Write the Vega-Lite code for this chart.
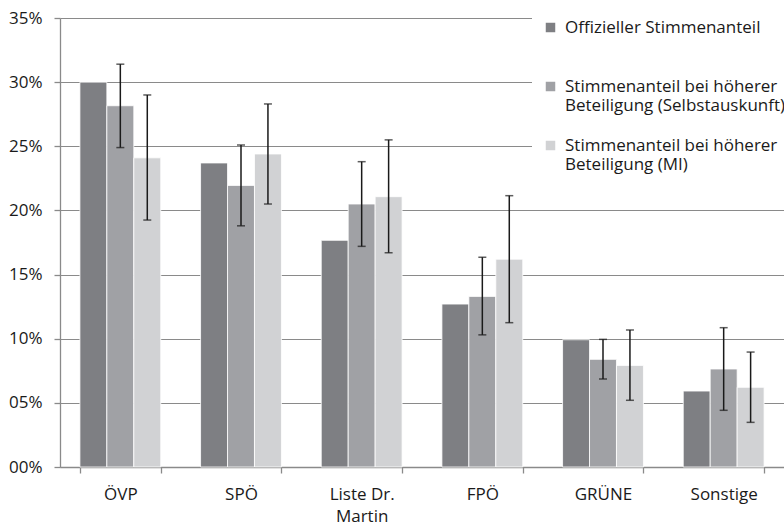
{
  "$schema": "https://vega.github.io/schema/vega-lite/v6.json",
  "width": 724,
  "height": 449,
  "autosize": {"type": "none"},
  "padding": {"left": 60, "top": 18, "right": 0, "bottom": 59},
  "background": "white",
  "config": {
    "font": "Open Sans",
    "view": {"stroke": null},
    "axis": {"labelFont": "Open Sans", "labelFontSize": 17, "labelColor": "#1a1a1a", "domainColor": "#8a8a8a", "tickColor": "#8a8a8a", "gridColor": "#8a8a8a", "domainWidth": 1.3, "tickWidth": 1.3, "gridWidth": 1.2, "title": null},
    "legend": {"labelFont": "Open Sans"}
  },
  "data": {
    "values": [
      {"party": "ÖVP", "series": "Offizieller Stimmenanteil", "value": 0.300, "lo": null, "hi": null},
      {"party": "ÖVP", "series": "Stimmenanteil bei höherer Beteiligung (Selbstauskunft)", "value": 0.2816, "lo": 0.249, "hi": 0.314},
      {"party": "ÖVP", "series": "Stimmenanteil bei höherer Beteiligung (MI)", "value": 0.241, "lo": 0.1925, "hi": 0.290},
      {"party": "SPÖ", "series": "Offizieller Stimmenanteil", "value": 0.237, "lo": null, "hi": null},
      {"party": "SPÖ", "series": "Stimmenanteil bei höherer Beteiligung (Selbstauskunft)", "value": 0.2195, "lo": 0.188, "hi": 0.251},
      {"party": "SPÖ", "series": "Stimmenanteil bei höherer Beteiligung (MI)", "value": 0.244, "lo": 0.205, "hi": 0.283},
      {"party": "Liste Dr. Martin", "series": "Offizieller Stimmenanteil", "value": 0.1767, "lo": null, "hi": null},
      {"party": "Liste Dr. Martin", "series": "Stimmenanteil bei höherer Beteiligung (Selbstauskunft)", "value": 0.205, "lo": 0.172, "hi": 0.238},
      {"party": "Liste Dr. Martin", "series": "Stimmenanteil bei höherer Beteiligung (MI)", "value": 0.2107, "lo": 0.167, "hi": 0.255},
      {"party": "FPÖ", "series": "Offizieller Stimmenanteil", "value": 0.127, "lo": null, "hi": null},
      {"party": "FPÖ", "series": "Stimmenanteil bei höherer Beteiligung (Selbstauskunft)", "value": 0.133, "lo": 0.103, "hi": 0.1635},
      {"party": "FPÖ", "series": "Stimmenanteil bei höherer Beteiligung (MI)", "value": 0.162, "lo": 0.1125, "hi": 0.2115},
      {"party": "GRÜNE", "series": "Offizieller Stimmenanteil", "value": 0.0992, "lo": null, "hi": null},
      {"party": "GRÜNE", "series": "Stimmenanteil bei höherer Beteiligung (Selbstauskunft)", "value": 0.0839, "lo": 0.0686, "hi": 0.0995},
      {"party": "GRÜNE", "series": "Stimmenanteil bei höherer Beteiligung (MI)", "value": 0.0792, "lo": 0.052, "hi": 0.1068},
      {"party": "Sonstige", "series": "Offizieller Stimmenanteil", "value": 0.0592, "lo": null, "hi": null},
      {"party": "Sonstige", "series": "Stimmenanteil bei höherer Beteiligung (Selbstauskunft)", "value": 0.0764, "lo": 0.0442, "hi": 0.1086},
      {"party": "Sonstige", "series": "Stimmenanteil bei höherer Beteiligung (MI)", "value": 0.0621, "lo": 0.0348, "hi": 0.0896}
    ]
  },
  "encoding": {
    "x": {
      "field": "party", "type": "nominal",
      "sort": ["ÖVP", "SPÖ", "Liste Dr. Martin", "FPÖ", "GRÜNE", "Sonstige"],
      "scale": {"paddingInner": 0.33, "paddingOuter": 0.165},
      "axis": {"labelAngle": 0, "tickBand": "extent", "tickSize": 6, "labelPadding": 13, "labelLineHeight": 22, "labelExpr": "datum.label == 'Liste Dr. Martin' ? ['Liste Dr.', 'Martin'] : datum.label"}
    },
    "xOffset": {
      "field": "series", "type": "nominal",
      "sort": ["Offizieller Stimmenanteil", "Stimmenanteil bei höherer Beteiligung (Selbstauskunft)", "Stimmenanteil bei höherer Beteiligung (MI)"],
      "scale": {"paddingInner": 0, "paddingOuter": 0}
    }
  },
  "layer": [
    {
      "mark": {"type": "bar", "stroke": "white", "strokeWidth": 0.8},
      "encoding": {
        "y": {
          "field": "value", "type": "quantitative",
          "scale": {"domain": [0, 0.35], "nice": false},
          "axis": {"values": [0, 0.05, 0.1, 0.15, 0.2, 0.25, 0.3, 0.35], "tickSize": 6, "labelPadding": 12, "labelExpr": "(datum.value < 0.095 ? '0' : '') + format(datum.value, '.0%')"}
        },
        "color": {
          "field": "series", "type": "nominal",
          "sort": ["Offizieller Stimmenanteil", "Stimmenanteil bei höherer Beteiligung (Selbstauskunft)", "Stimmenanteil bei höherer Beteiligung (MI)"],
          "scale": {"range": ["#7e7f83", "#a0a1a5", "#d1d2d4"]},
          "legend": {
            "title": null, "orient": "none", "legendX": 472, "legendY": -9,
            "fillColor": "white", "padding": 10, "symbolType": "square", "symbolSize": 90,
            "symbolStrokeWidth": 0, "labelFontSize": 17, "labelColor": "#1a1a1a", "labelLimit": 320,
            "labelLineHeight": 19, "rowPadding": 22, "labelOffset": 6, "labelBaseline": "middle",
            "labelExpr": "indexof(datum.label, 'Beteiligung') > 0 ? [substring(datum.label, 0, indexof(datum.label, ' Beteiligung')), substring(datum.label, indexof(datum.label, 'Beteiligung') )] : [datum.label, ' ']",
            "encoding": {"labels": {"update": {"dy": {"value": 9.5}}}}
          }
        }
      }
    },
    {
      "transform": [{"filter": "datum.lo != null"}],
      "mark": {"type": "rule", "color": "#1a1a1a", "strokeWidth": 1.5},
      "encoding": {
        "y": {"field": "lo", "type": "quantitative"},
        "y2": {"field": "hi"}
      }
    },
    {
      "transform": [{"filter": "datum.lo != null"}],
      "mark": {"type": "tick", "color": "#1a1a1a", "thickness": 1.5, "size": 8, "orient": "horizontal"},
      "encoding": {"y": {"field": "lo", "type": "quantitative"}}
    },
    {
      "transform": [{"filter": "datum.lo != null"}],
      "mark": {"type": "tick", "color": "#1a1a1a", "thickness": 1.5, "size": 8, "orient": "horizontal"},
      "encoding": {"y": {"field": "hi", "type": "quantitative"}}
    }
  ]
}
